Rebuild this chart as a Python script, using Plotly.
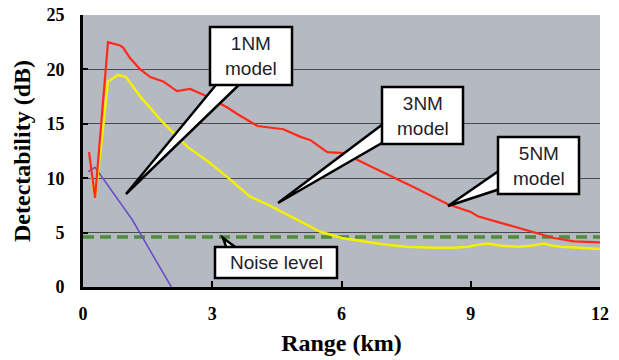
import plotly.graph_objects as go

# ---------------- data ----------------
red_x = [0.14, 0.28, 0.58, 0.86, 0.93, 1.1, 1.33, 1.56, 1.86, 2.18, 2.49, 2.88, 3.35, 3.58, 4.05, 4.5, 4.65,
         5.05, 5.28, 5.67, 6.05, 6.67, 7.2, 7.67, 8.47, 9.0, 9.16, 9.86, 10.47, 10.93, 11.4, 12.0]
red_y = [12.4, 8.2, 22.5, 22.2, 22.0, 21.0, 20.0, 19.3, 18.9, 18.0, 18.2, 17.5, 16.5, 15.9, 14.8, 14.6, 14.5,
         13.8, 13.5, 12.4, 12.3, 11.1, 10.1, 9.2, 7.6, 6.9, 6.5, 5.7, 5.0, 4.5, 4.2, 4.1]

yel_x = [0.2, 0.28, 0.45, 0.58, 0.81, 1.0, 1.33, 1.86, 2.42, 2.95, 3.35, 3.88, 4.28, 5.05, 5.5, 6.0, 6.5,
         7.0, 7.5, 8.14, 8.6, 8.93, 9.2, 9.4, 9.7, 10.1, 10.4, 10.7, 10.9, 11.1, 11.5, 12.0]
yel_y = [10.2, 8.3, 14.0, 18.9, 19.5, 19.3, 17.5, 15.1, 12.9, 11.4, 10.1, 8.3, 7.6, 6.0, 5.1, 4.5, 4.2,
         3.9, 3.7, 3.6, 3.6, 3.7, 3.9, 4.0, 3.8, 3.7, 3.8, 4.0, 3.8, 3.7, 3.6, 3.5]

pur_x = [0.12, 0.28, 1.14, 2.05]
pur_y = [10.6, 11.0, 6.2, 0.0]

noise_x = [0.0, 12.0]
noise_y = [4.6, 4.6]

x_ticks = [0, 3, 6, 9, 12]
y_ticks = [0, 5, 10, 15, 20, 25]

# ---------------- layout geometry ----------------
W, H = 619, 360
ML, MR, MT, MB = 83, 19, 15, 73
PW, PH = W - ML - MR, H - MT - MB
XMAX, YMAX = 12.0, 25.0


def dx(px):
    return (px - ML) / PW * XMAX


def dy(py):
    return (H - MB - py) / PH * YMAX


fig = go.Figure()
fig.add_trace(go.Scatter(x=noise_x, y=noise_y, mode="lines",
                         line=dict(color="#4f8c3c", width=3.5, dash="11px,6px"), hoverinfo="skip"))
fig.add_trace(go.Scatter(x=pur_x, y=pur_y, mode="lines",
                         line=dict(color="#6a4fc8", width=1.6), hoverinfo="skip"))
fig.add_trace(go.Scatter(x=yel_x, y=yel_y, mode="lines",
                         line=dict(color="#f4f000", width=2.5), hoverinfo="skip"))
fig.add_trace(go.Scatter(x=red_x, y=red_y, mode="lines",
                         line=dict(color="#ff2a1a", width=2.2), hoverinfo="skip"))

shapes = []
annotations = []


def callout(box, wedge, text):
    x0, y0, x1, y1 = box
    (ax, ay), (bx, by), (tx, ty) = wedge
    path = "M {} {} L {} {} L {} {} Z".format(dx(ax), dy(ay), dx(tx), dy(ty), dx(bx), dy(by))
    shapes.append(dict(type="path", path=path, xref="x", yref="y",
                       fillcolor="white", line=dict(color="black", width=2.5), layer="above"))
    shapes.append(dict(type="rect", xref="x", yref="y", x0=dx(x0), x1=dx(x1), y0=dy(y0), y1=dy(y1),
                       fillcolor="white", line=dict(color="black", width=2.5), layer="above"))
    annotations.append(dict(x=dx((x0 + x1) / 2), y=dy((y0 + y1) / 2), xref="x", yref="y",
                            text=text, showarrow=False,
                            font=dict(family="Liberation Sans, Arial", size=19, color="#1e1e2a")))


callout((210, 27, 292, 85), ((220, 80), (244, 80), (126, 194)), "1NM<br>model")
callout((382, 87, 463, 144), ((387, 121), (387, 140), (278, 203)), "3NM<br>model")
callout((498, 137, 579, 194), ((503, 168), (503, 188), (448, 206)), "5NM<br>model")
callout((215, 247, 337, 278), ((228, 252), (242, 252), (223, 238)), "Noise level")

fig.update_layout(
    width=W, height=H,
    margin=dict(l=ML, r=MR, t=MT, b=MB, autoexpand=False),
    paper_bgcolor="white",
    plot_bgcolor="#b5b9c1",
    showlegend=False,
    shapes=shapes,
    annotations=annotations,
    font=dict(family="Liberation Serif, Times New Roman", color="black"),
)

fig.update_xaxes(range=[0, XMAX], tickvals=x_ticks, ticktext=["<b>%d</b>" % v for v in x_ticks],
                 showgrid=False, zeroline=False, showline=True, linecolor="black", linewidth=3,
                 ticks="inside", ticklen=6, tickwidth=2, tickcolor="black",
                 tickfont=dict(family="Liberation Serif", size=18, color="black"),
                 ticklabelstandoff=8, automargin=False,
                 title=dict(text="<b>Range (km)</b>", standoff=12,
                            font=dict(family="Liberation Serif", size=24, color="black")))
fig.update_yaxes(range=[0, YMAX], tickvals=y_ticks, ticktext=["<b>%d</b>" % v for v in y_ticks],
                 showgrid=True, gridcolor="#4a4a4a", gridwidth=1, zeroline=False,
                 showline=True, linecolor="black", linewidth=3,
                 ticks="inside", ticklen=5, tickwidth=2, tickcolor="black",
                 tickfont=dict(family="Liberation Serif", size=18, color="black"),
                 ticklabelstandoff=12, automargin=False,
                 title=dict(text="<b>Detectability (dB)</b>", standoff=10,
                            font=dict(family="Liberation Serif", size=24, color="black")))

fig.write_html("out.html", config={"displayModeBar": False},
               post_script="document.body.style.margin='0';document.body.style.padding='0';")
